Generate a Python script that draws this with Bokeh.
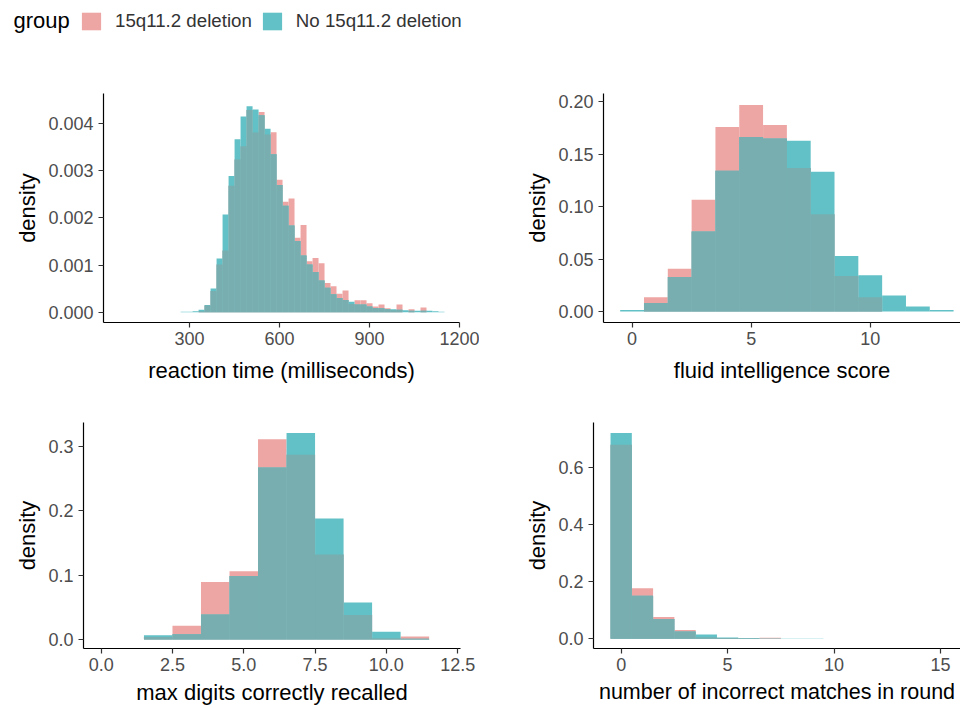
import numpy as np
from bokeh.plotting import figure
from bokeh.layouts import column, row
from bokeh.models import (Legend, LegendItem, Label, FixedTicker,
                          PrintfTickFormatter, Range1d, ColumnDataSource)
from bokeh.embed import file_html
from bokeh.resources import INLINE

# ---------------- data ----------------
groups = ["15q11.2 deletion", "No 15q11.2 deletion"]
legend_title = "group"
y_title = "density"

# A: reaction time, 20 ms bins (left edges)
rt_bin_start = np.arange(270, 1150, 20)
rt_bin_width = 20
rt_deletion = [0.0, 0.0, 0.0, 0.00002, 0.00014, 0.00045, 0.00101, 0.00131,
               0.00268, 0.00324, 0.00352, 0.00429, 0.00381, 0.00425, 0.00377,
               0.00382, 0.00281, 0.00234, 0.00241, 0.00158, 0.00185, 0.00108,
               0.00115, 0.00104, 0.00062, 0.00055, 0.00039, 0.00046, 0.00017,
               0.00025, 0.00025, 0.00019, 0.00012, 0.00016, 0.00008, 0.00004,
               0.00016, 0.0, 0.00006, 0.0, 0.0001, 0.0, 0.0, 0.0]
rt_no_deletion = [0.00001, 0.00001, 0.00002, 0.00005, 0.00015, 0.00050,
                  0.00114, 0.00207, 0.00289, 0.00367, 0.00415, 0.00437,
                  0.00430, 0.00418, 0.00389, 0.00335, 0.00270, 0.00226,
                  0.00184, 0.00151, 0.00120, 0.00101, 0.00085, 0.00067,
                  0.00052, 0.00038, 0.00030, 0.00026, 0.00022, 0.00016,
                  0.00016, 0.00012, 0.00009, 0.00008, 0.00006, 0.00006,
                  0.00005, 0.00004, 0.00003, 0.00003, 0.00003, 0.00003,
                  0.00002, 0.00001]

# B: fluid intelligence score (bins centred on integers)
fi_score = list(range(0, 14))
fi_deletion = [0.0, 0.0137, 0.0408, 0.1067, 0.176, 0.197, 0.178, 0.137,
               0.0927, 0.0338, 0.0137, 0.0, 0.0, 0.0]
fi_no_deletion = [0.0015, 0.008, 0.0328, 0.0764, 0.1344, 0.1666, 0.165,
                  0.163, 0.1334, 0.0529, 0.0347, 0.0153, 0.0048, 0.0015]

# C: max digits correctly recalled
md_digits = list(range(2, 12))
md_deletion = [0.004, 0.0212, 0.0893, 0.1058, 0.3108, 0.287, 0.132,
               0.0382, 0.002, 0.0046]
md_no_deletion = [0.0067, 0.0083, 0.0387, 0.0986, 0.267, 0.3206, 0.188,
                  0.0573, 0.0119, 0.001]

# D: number of incorrect matches in round
im_count = list(range(0, 13))
im_deletion = [0.678, 0.177, 0.0765, 0.0313, 0.006, 0.003, 0.002, 0.0035,
               0.0, 0.0, 0.0, 0.0, 0.0]
im_no_deletion = [0.719, 0.1506, 0.0695, 0.0255, 0.015, 0.0046, 0.003,
                  0.001, 0.001, 0.001, 0.0005, 0.0005, 0.0005]

x_titles = ["reaction time (milliseconds)", "fluid intelligence score",
            "max digits correctly recalled",
            "number of incorrect matches in round"]
tags = ["A", "B", "C", "D"]

# ---------------- style ----------------
FONT = "Liberation Sans"
PINK = "#EEA6A4"
TEAL = "#62C1C6"
MIX = "#78AEAF"
TICK_SIZE = "18px"
TITLE_SIZE = "22px"
TOTAL_W = 960


def panel(tag, tag_dx, left_edges, width, red, teal, xr, yr, xticks, yticks,
          xfmt, yfmt, xlabel, fw, fh, bl, br, bt, bb, x_title_standoff,
          x_title_size=TITLE_SIZE):
    p = figure(frame_width=fw, frame_height=fh,
               x_range=Range1d(*xr), y_range=Range1d(*yr),
               output_backend="svg", toolbar_location=None,
               min_border_left=bl, min_border_right=br,
               min_border_top=bt, min_border_bottom=bb)
    left = np.asarray(left_edges, dtype=float)
    red = np.asarray(red, dtype=float)
    teal = np.asarray(teal, dtype=float)
    src = ColumnDataSource(dict(left=left, right=left + width, red=red,
                                teal=teal, both=np.minimum(red, teal)))
    p.quad(left="left", right="right", bottom=0, top="red", source=src,
           fill_color=PINK, line_color=None)
    p.quad(left="left", right="right", bottom=0, top="teal", source=src,
           fill_color=TEAL, line_color=None)
    p.quad(left="left", right="right", bottom=0, top="both", source=src,
           fill_color=MIX, line_color=None)

    p.grid.visible = False
    p.outline_line_color = None
    p.xaxis.axis_label = xlabel
    p.yaxis.axis_label = y_title
    p.xaxis.ticker = FixedTicker(ticks=xticks)
    p.yaxis.ticker = FixedTicker(ticks=yticks)
    p.xaxis.formatter = PrintfTickFormatter(format=xfmt)
    p.yaxis.formatter = PrintfTickFormatter(format=yfmt)
    for ax in (p.xaxis[0], p.yaxis[0]):
        ax.axis_line_color = "black"
        ax.axis_line_width = 1.2
        ax.major_tick_line_color = "#333333"
        ax.major_tick_line_width = 1.2
        ax.major_tick_out = 5
        ax.major_tick_in = 0
        ax.minor_tick_line_color = None
        ax.major_label_text_font = FONT
        ax.major_label_text_font_size = TICK_SIZE
        ax.major_label_text_color = "#4D4D4D"
        ax.axis_label_text_font = FONT
        ax.axis_label_text_font_size = TITLE_SIZE
        ax.axis_label_text_font_style = "normal"
        ax.axis_label_text_color = "black"
    p.xaxis.axis_label_text_font_size = x_title_size
    p.xaxis.major_label_standoff = 4
    p.xaxis.axis_label_standoff = x_title_standoff
    p.yaxis.major_label_standoff = 5
    p.yaxis.axis_label_standoff = 5

    p.add_layout(Label(x=tag_dx, y=fh + 2, x_units="screen", y_units="screen",
                       text=tag, text_font=FONT, text_font_size="19px",
                       text_font_style="bold", text_color="black",
                       text_baseline="top", text_align="left"))
    return p


# legend strip
lg = figure(frame_width=TOTAL_W, frame_height=40, output_backend="svg",
            toolbar_location=None, min_border=0,
            x_range=Range1d(0, 1), y_range=Range1d(0, 1),
            x_axis_location=None, y_axis_location=None)
lg.grid.visible = False
lg.outline_line_color = None
swatch = ColumnDataSource(dict(x=[0.0], y=[0.0]))
r_red = lg.quad(left="x", right="x", top="y", bottom="y", source=swatch,
                fill_color=PINK, line_color=None)
r_teal = lg.quad(left="x", right="x", top="y", bottom="y", source=swatch,
                 fill_color=TEAL, line_color=None)
legend = Legend(items=[LegendItem(label=groups[0], renderers=[r_red]),
                       LegendItem(label=groups[1], renderers=[r_teal])],
                orientation="horizontal", location=(79, 8),
                margin=0, padding=0, spacing=8,
                border_line_color=None, background_fill_alpha=0,
                glyph_width=24, glyph_height=22, label_standoff=12,
                label_text_font=FONT, label_text_font_size="18.7px",
                label_text_color="#333333")
lg.add_layout(legend, "center")
lg.add_layout(Label(x=13, y=20, x_units="screen", y_units="screen",
                    text=legend_title, text_font=FONT, text_font_size="22px",
                    text_color="black", text_baseline="middle",
                    text_align="left"))

pA = panel(tags[0], -91, rt_bin_start, rt_bin_width, rt_deletion,
           rt_no_deletion, (13, 1200), (-0.00022, 0.00464),
           [300, 600, 900, 1200], [0, 0.001, 0.002, 0.003, 0.004],
           "%d", "%.3f", x_titles[0], 356, 229, 103, 20, 53, 66, 10)
pB = panel(tags[1], -78, np.asarray(fi_score) - 0.5, 1, fi_deletion,
           fi_no_deletion, (-1.2, 13.79), (-0.0105, 0.208),
           [0, 5, 10], [0, 0.05, 0.10, 0.15, 0.20],
           "%d", "%.2f", x_titles[1], TOTAL_W - 603, 229, 124, 0, 53, 66, 10)
pC = panel(tags[2], -71, np.asarray(md_digits) - 0.5, 1, md_deletion,
           md_no_deletion, (-0.62, 12.6), (-0.014, 0.337),
           [0, 2.5, 5, 7.5, 10, 12.5], [0, 0.1, 0.2, 0.3],
           "%.1f", "%.1f", x_titles[2], 377, 226, 83, 20, 34, 60, 6)
pD = panel(tags[3], -69, np.asarray(im_count) - 0.5, 1, im_deletion,
           im_no_deletion, (-1.3, 15.94), (-0.0337, 0.756),
           [0, 5, 10, 15], [0, 0.2, 0.4, 0.6],
           "%d", "%.1f", x_titles[3], TOTAL_W - 593, 226, 113, 0, 34, 60, 6,
           "21.5px")

layout = column(lg, row(pA, pB), row(pC, pD))

open("out.html", "w").write(file_html(layout, INLINE))
